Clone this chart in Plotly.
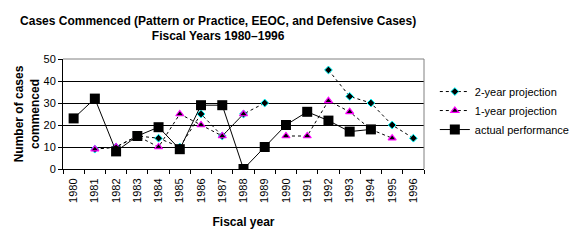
import plotly.graph_objects as go

years = [str(y) for y in range(1980, 1997)]
two_year = [None, 9, 10, 15, 14, 10, 25, 15, 25, 30, None, None, 45, 33, 30, 20, 14]
one_year = [None, 9, 10, 15, 10, 25, 20, 15, 25, None, 15, 15, 31, 26, 18, 14, None]
actual = [23, 32, 8, 15, 19, 9, 29, 29, 0, 10, 20, 26, 22, 17, 18, None, None]

FONT = "Liberation Sans, Arial, sans-serif"

fig = go.Figure()
fig.add_trace(go.Scatter(
    x=years, y=two_year, name="2-year projection", mode="lines+markers",
    line=dict(color="black", width=1, dash="dot"),
    marker=dict(symbol="diamond", size=6, color="black", line=dict(color="#00FFFF", width=1)),
))
fig.add_trace(go.Scatter(
    x=years, y=one_year, name="1-year projection", mode="lines+markers",
    line=dict(color="black", width=1, dash="3px,3px"),
    marker=dict(symbol="triangle-up", size=7, color="black", line=dict(color="#FF00FF", width=1.2)),
))
fig.add_trace(go.Scatter(
    x=years, y=actual, name="actual performance", mode="lines+markers",
    line=dict(color="black", width=1),
    marker=dict(symbol="square", size=10, color="black"),
))

fig.update_layout(
    width=588, height=246,
    margin=dict(l=63, r=164, t=59, b=77),
    paper_bgcolor="white", plot_bgcolor="white",
    font=dict(family=FONT, size=11, color="black"),
    showlegend=True,
    title=dict(
        text="<b>Cases Commenced (Pattern or Practice, EEOC, and Defensive Cases)<br>Fiscal Years 1980\u20131996</b>",
        x=0.371, xanchor="center", xref="container",
        y=0.90, yanchor="top", yref="container",
        font=dict(family=FONT, size=12, color="black"),
    ),
    legend=dict(
        x=1.03, xanchor="left", y=0.836, yanchor="top",
        font=dict(family=FONT, size=11, color="black"),
        bgcolor="rgba(0,0,0,0)", borderwidth=0, tracegroupgap=0,
    ),
    xaxis=dict(
        type="category", categoryorder="array", categoryarray=years,
        tickangle=-90, tickson="boundaries", ticks="outside", ticklen=4,
        ticklabelstandoff=4,
        tickcolor="black", showline=True, linecolor="black", linewidth=1,
        showgrid=False, zeroline=False,
        title=dict(text="<b>Fiscal year</b>", font=dict(family=FONT, size=12), standoff=15),
        range=[-0.5, 16.5],
    ),
    yaxis=dict(
        range=[0, 50], dtick=10, tick0=0, ticks="outside", ticklen=4,
        tickcolor="black", showline=True, linecolor="black", linewidth=1,
        showgrid=True, gridcolor="black", gridwidth=1, zeroline=False,
        title=dict(text="<b>Number of cases<br>commenced</b>", font=dict(family=FONT, size=12), standoff=1),
    ),
)

fig.add_shape(type="line", xref="paper", yref="paper", x0=0, x1=1, y0=1, y1=1,
              line=dict(color="#808080", width=1), layer="above")
fig.add_shape(type="line", xref="paper", yref="paper", x0=1, x1=1, y0=0, y1=1,
              line=dict(color="#808080", width=1), layer="above")

fig.write_html("out.html")
